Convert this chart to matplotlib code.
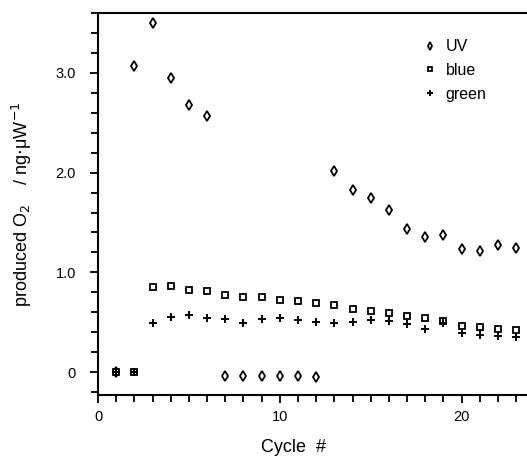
import matplotlib
matplotlib.use("Agg")
import matplotlib.pyplot as plt
from matplotlib.ticker import MultipleLocator, FixedLocator

plt.rcParams['font.family'] = ['Liberation Sans', 'DejaVu Sans']

cycles_uv = [1, 2, 3, 4, 5, 6, 7, 8, 9, 10, 11, 12, 13, 14, 15, 16, 17, 18, 19, 20, 21, 22, 23]
uv = [0.0, 3.07, 3.50, 2.95, 2.68, 2.57, -0.04, -0.04, -0.04, -0.04, -0.04, -0.05,
      2.02, 1.83, 1.75, 1.63, 1.43, 1.35, 1.37, 1.23, 1.21, 1.27, 1.24]
cycles = list(range(1, 24))
blue = [0.0, 0.0, 0.85, 0.86, 0.82, 0.81, 0.77, 0.75, 0.75, 0.72, 0.715, 0.695,
        0.67, 0.63, 0.61, 0.59, 0.565, 0.545, 0.51, 0.465, 0.45, 0.43, 0.42]
green = [0.0, 0.0, 0.49, 0.55, 0.57, 0.54, 0.535, 0.49, 0.53, 0.54, 0.525, 0.50,
         0.49, 0.50, 0.525, 0.51, 0.48, 0.435, 0.49, 0.39, 0.375, 0.36, 0.35]
series_names = ["UV", "blue", "green"]

fig = plt.figure(figsize=(5.27, 4.59), dpi=100)
ax = fig.add_axes([0.186, 0.139, 0.814, 0.833])

ax.plot(cycles_uv, uv, linestyle='none', marker='d', markersize=5.5,
        markerfacecolor='white', markeredgecolor='black', markeredgewidth=1.3, label=series_names[0])
ax.plot(cycles, blue, linestyle='none', marker='s', markersize=4.5,
        markerfacecolor='white', markeredgecolor='black', markeredgewidth=1.3, label=series_names[1])
ax.plot(cycles, green, linestyle='none', marker='+', markersize=6,
        color='black', markeredgewidth=1.4, label=series_names[2])

ax.set_xlim(0, 23.6)
ax.set_ylim(-0.23, 3.6)

ax.spines['right'].set_visible(False)
for s in ['left', 'bottom', 'top']:
    ax.spines[s].set_linewidth(1.5)

ax.xaxis.set_major_locator(FixedLocator([0, 10, 20]))
ax.xaxis.set_minor_locator(MultipleLocator(1))
ax.yaxis.set_major_locator(FixedLocator([0, 1, 2, 3]))
ax.yaxis.set_minor_locator(MultipleLocator(0.2))
ax.set_yticklabels(["0", "1.0", "2.0", "3.0"])
ax.tick_params(axis='both', which='both', direction='out', width=1.3, labelsize=10.5)
ax.tick_params(axis='both', which='major', length=6)
ax.tick_params(axis='both', which='minor', length=5)
ax.tick_params(axis='y', pad=10)
ax.tick_params(axis='x', pad=5)

ax.set_xlabel("Cycle  #", fontsize=13)
ax.xaxis.set_label_coords(0.455, -0.115)
ax.set_ylabel("produced O$_2$    / ng$\\cdot\\mathregular{\\mu}$W$^{-1}$", fontsize=13)
ax.yaxis.set_label_coords(-0.15, 0.5)

leg = ax.legend(loc='upper left', bbox_to_anchor=(0.74, 0.948), frameon=False,
                fontsize=11.5, handletextpad=0.5, labelspacing=0.56, handlelength=1.0,
                markerscale=0.75, borderaxespad=0)

fig.savefig("out.png", dpi=100)
